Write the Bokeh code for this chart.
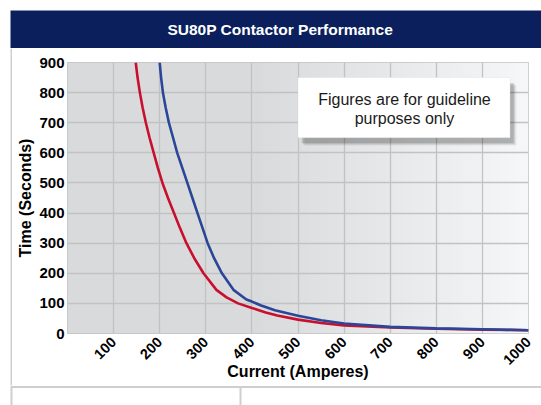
import numpy as np
from math import pi
from bokeh.plotting import figure
from bokeh.layouts import column, row
from bokeh.models import FixedTicker, BoxAnnotation, Label, Range1d
from bokeh.embed import file_html
from bokeh.resources import INLINE

title_text = "SU80P Contactor Performance"
x_label = "Current (Amperes)"
y_label = "Time (Seconds)"
x_ticks = [100, 200, 300, 400, 500, 600, 700, 800, 900, 1000]
y_ticks = [0, 100, 200, 300, 400, 500, 600, 700, 800, 900]

red_current = [148, 152, 157, 163, 170, 178, 187, 196, 206, 218, 231, 244, 258, 275, 295,
               323, 345, 370, 400, 430, 455, 500, 550, 600, 700, 800, 900, 1000]
red_time = [900, 850, 800, 750, 700, 650, 600, 550, 500, 450, 400, 350, 300, 250, 200,
            145, 120, 100, 85, 70, 60, 46, 35, 27, 20, 16, 13, 11]
blue_current = [200, 203, 207, 213, 220, 229, 238, 249, 260, 271, 282, 293, 304, 318, 335,
                360, 388, 400, 420, 450, 500, 550, 600, 700, 800, 900, 1000]
blue_time = [900, 850, 800, 750, 700, 650, 600, 550, 500, 450, 400, 350, 300, 250, 200,
             145, 113, 106, 93, 77, 59, 44, 33, 22, 17, 14, 11]

note_lines = ["Figures are for guideline", "purposes only"]

FONT = "Liberation Sans"
PANEL_LINE = "#cfcfcf"


def strip(width, height, xr, yr):
    f = figure(width=width, height=height, x_range=Range1d(*xr), y_range=Range1d(*yr),
               output_backend="svg", toolbar_location=None, x_axis_type=None, y_axis_type=None,
               min_border_left=0, min_border_top=0, min_border_right=0, min_border_bottom=0)
    f.frame_align = False
    f.background_fill_color = "white"
    f.border_fill_color = "white"
    f.outline_line_color = None
    f.grid.visible = False
    return f


# ---- title band ----
pt = figure(width=541, height=48, x_range=Range1d(0, 1), y_range=Range1d(0, 1),
            output_backend="svg", toolbar_location=None, x_axis_type=None, y_axis_type=None,
            min_border_left=10, min_border_top=10, min_border_right=0, min_border_bottom=0)
pt.frame_align = False
pt.background_fill_color = "#0a1f5c"
pt.border_fill_color = "white"
pt.outline_line_color = None
pt.grid.visible = False
pt.add_layout(Label(x=0.508, y=0.5, text=title_text, text_align="center", text_baseline="middle",
                    text_font=FONT, text_font_size="15.5px", text_font_style="bold", text_color="white"))

# ---- left panel edge ----
pl = strip(12, 337, (0, 12), (0, 337))
pl.segment(x0=[11], y0=[0], x1=[11], y1=[337], line_color=PANEL_LINE, line_width=2)

# ---- main chart ----
p = figure(width=529, height=337, x_range=Range1d(0, 1000), y_range=Range1d(0, 900),
           output_backend="svg", toolbar_location=None,
           min_border_left=55, min_border_right=13, min_border_top=14, min_border_bottom=52)
p.frame_align = False
p.border_fill_color = "white"
p.background_fill_color = "#d9d9d9"
p.outline_line_color = "#c3c3c3"
p.outline_line_width = 1

# gradient background in plot area
n = 200
gx = np.linspace(0, 1000, n)
val = np.where(gx < 400, 217, 217 + (gx - 400) / 600 * 29)
img = np.empty((1, n), dtype=np.uint32)
view = img.view(dtype=np.uint8).reshape((1, n, 4))
view[..., 0] = val.astype(np.uint8)
view[..., 1] = np.clip(val + 1, 0, 255).astype(np.uint8)
view[..., 2] = np.clip(val + 2, 0, 255).astype(np.uint8)
view[..., 3] = 255
p.image_rgba(image=[img], x=0, y=0, dw=1000, dh=900, level="image")

# grid
p.xgrid.ticker = FixedTicker(ticks=x_ticks)
p.ygrid.ticker = FixedTicker(ticks=y_ticks)
for g in (p.xgrid, p.ygrid):
    g.grid_line_color = "#c2c2c2"
    g.grid_line_width = 1.3

# axes
p.xaxis.ticker = FixedTicker(ticks=x_ticks)
p.yaxis.ticker = FixedTicker(ticks=y_ticks)
for ax in (p.xaxis, p.yaxis):
    ax.axis_line_color = None
    ax.major_tick_line_color = None
    ax.minor_tick_line_color = None
    ax.major_label_text_font = FONT
    ax.major_label_text_font_style = "bold"
    ax.major_label_text_color = "black"
    ax.axis_label_text_font = FONT
    ax.axis_label_text_font_style = "bold"
    ax.axis_label_text_font_size = "16px"
    ax.axis_label_text_color = "black"
    ax.major_label_standoff = 0
p.yaxis.major_label_standoff = -3
p.yaxis.major_label_text_font_size = "15px"
p.xaxis.major_label_text_font_size = "14.5px"
p.xaxis.major_label_orientation = pi / 4
p.xaxis.axis_label = x_label
p.yaxis.axis_label = y_label
p.xaxis.axis_label_standoff = -9
p.yaxis.axis_label_standoff = 2

# curves
p.line(red_current, red_time, line_color="#c8102e", line_width=2.6)
p.line(blue_current, blue_time, line_color="#2a4699", line_width=2.6)

# note box with shadow
for (dx, dy, a) in [(14, 26, 0.06), (11, 22, 0.1), (8, 18, 0.15)]:
    p.add_layout(BoxAnnotation(left=500 + dx, right=960 + dx, top=850 - dy, bottom=650 - dy,
                               fill_color="black", fill_alpha=a, line_color=None))
p.add_layout(BoxAnnotation(left=500, right=960, top=850, bottom=650,
                           fill_color="white", fill_alpha=1, line_color="#d5d5d5", line_width=1))
p.add_layout(Label(x=731, y=777, text=note_lines[0], text_align="center", text_baseline="middle",
                   text_font=FONT, text_font_size="16px", text_color="#1a1a1a"))
p.add_layout(Label(x=731, y=713, text=note_lines[1], text_align="center", text_baseline="middle",
                   text_font=FONT, text_font_size="16px", text_color="#1a1a1a"))

# ---- bottom panel strip (decorative frame lines) ----
pb = strip(541, 20, (0, 541), (0, 20))
pb.segment(x0=[11, 11, 240], y0=[18.5, 0, 0], x1=[541, 11, 240], y1=[18.5, 20, 18.5],
           line_color=PANEL_LINE, line_width=2)

layout = column(pt, row(pl, p, spacing=0), pb, spacing=0)
open("out.html", "w").write(file_html(layout, INLINE))
